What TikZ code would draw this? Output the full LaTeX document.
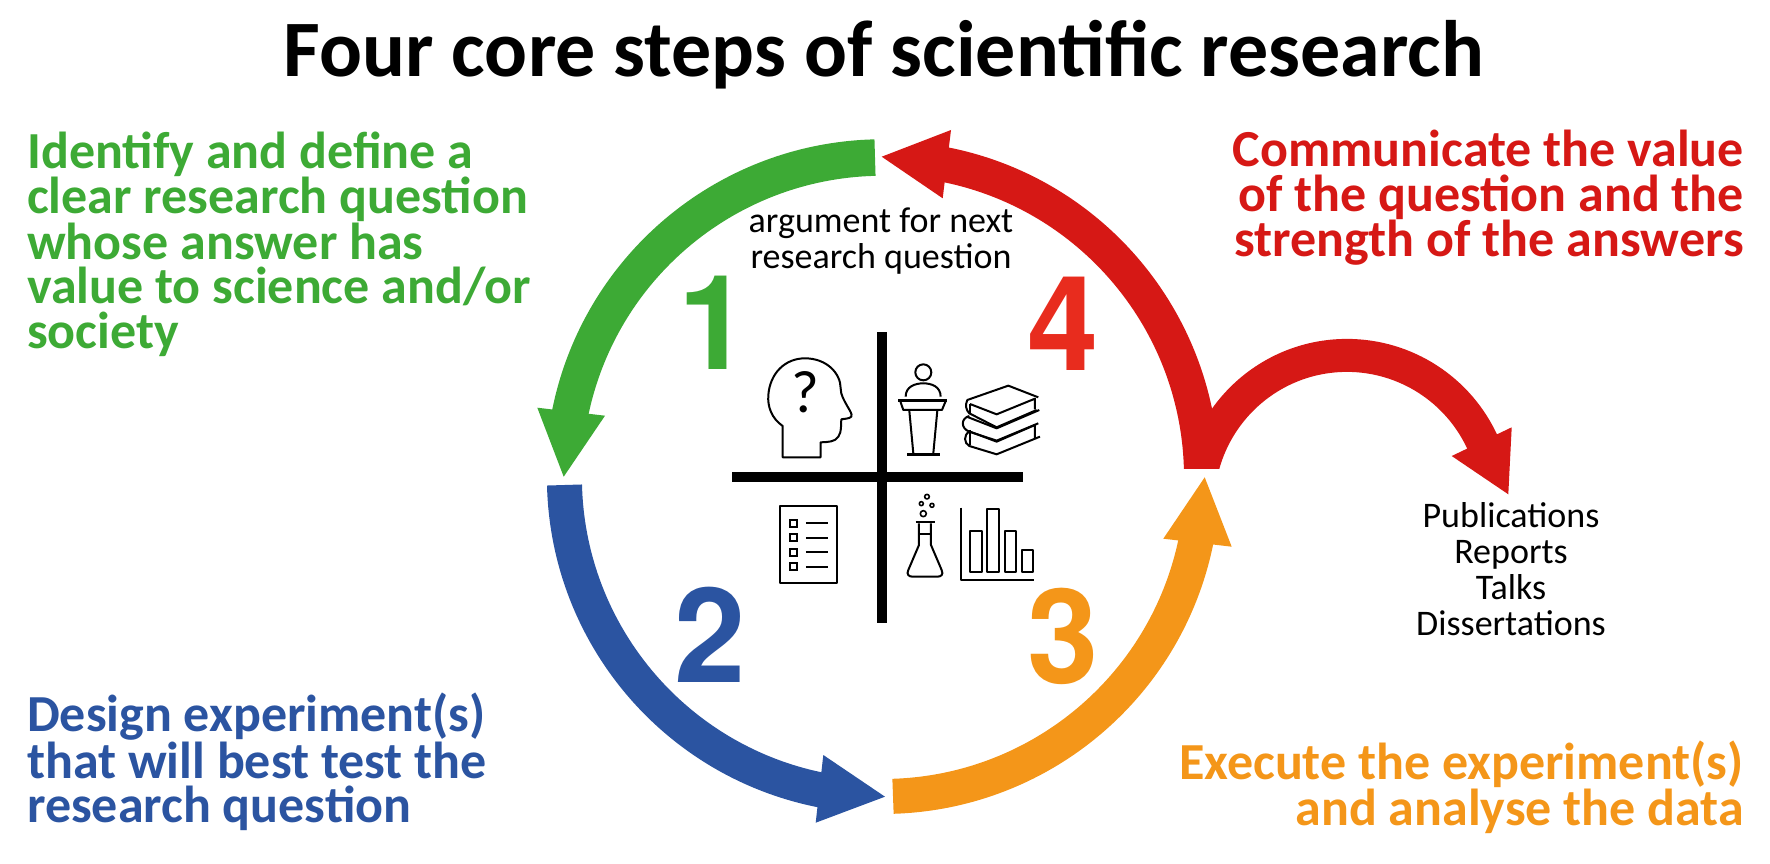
\documentclass[tikz,border=0pt]{standalone}
\usepackage{fontspec}
\setmainfont{Carlito}
\newfontfamily\numfont{TeX Gyre Heros}
\definecolor{cgreen}{HTML}{3DAA35}
\definecolor{cblue}{HTML}{2B54A1}
\definecolor{corange}{HTML}{F49619}
\definecolor{cred}{HTML}{D61815}
\definecolor{cfour}{HTML}{E82C1E}
\newcommand{\dig}[1]{\scalebox{1.05}[1.08]{#1}}
\tikzset{
  band/.style={line width=35pt},
  captext/.style={inner sep=0pt,font=\bfseries\fontsize{52}{44.3}\selectfont},
  smalltext/.style={inner sep=0pt,align=center,font=\fontsize{36}{36}\selectfont},
  num/.style={inner sep=0pt,font=\numfont\bfseries\fontsize{122}{122}\selectfont},
  ico/.style={line width=2pt,draw=black,line join=round},
  thinline/.style={line width=1.6pt,draw=black,line join=round},
}
\begin{document}
\begin{tikzpicture}[x=1pt,y=-1pt]
\useasboundingbox (0,0) rectangle (1770,864);
\node[inner sep=0pt,font=\bfseries\fontsize{80}{80}\selectfont] (title) at (884,55) {Four core steps of scientific research};
% circle arrows
\coordinate (gs) at (875,157.6);
\draw[line width=36.5pt,cgreen] (gs) arc[start angle=-91.4,end angle=-169.5,radius=319];
\fill[cgreen] (537.3,407.7) coordinate (ga) -- (605,415.7) coordinate (gb) -- (563.7,476.7) coordinate (gt) -- cycle;
\coordinate (bs) at (564.5,485);
\draw[band,cblue] (bs) arc[start angle=178.6,end angle=100.3,radius=319];
\fill[cblue] (823.3,755) coordinate (ba) -- (815.7,822.7) coordinate (bb) -- (885,796.7) coordinate (bt) -- cycle;
\coordinate (os) at (893,796.3);
\draw[band,corange] (os) arc[start angle=88.2,end angle=10.5,radius=319.5];
\fill[corange] (1163.3,538.7) coordinate (oa) -- (1231.7,546.7) coordinate (ob) -- (1204.7,477.3) coordinate (ot) -- cycle;
\coordinate (rs) at (1201.5,477);
\coordinate (hs) at (1198,504.4);
\begin{scope}
\clip (800,100) rectangle (1600,468);
\draw[band,cred] (rs) arc[start angle=0,end angle=-79.8,radius=318.5];
\draw[line width=33pt,cred] (hs) arc[start angle=180,end angle=336,radius=149];
\end{scope}
\fill[cred] (951,130) coordinate (ra) -- (942.7,198.3) coordinate (rb) -- (881.7,156.7) coordinate (rt) -- cycle;
\fill[cred] (1511.7,427.3) coordinate (ha) -- (1451.7,456) coordinate (hb) -- (1508.3,494.3) coordinate (ht) -- cycle;
% numbers
\node[num,cgreen] (n1) at (714.5,323) {\dig{1}};
\node[num,cblue] (n2) at (710.5,635) {\dig{2}};
\node[num,corange] (n3) at (1063,636) {\dig{3}};
\node[num,cfour] (n4) at (1063,324) {\dig{4}};
% cross
\fill[black] (876.7,331.7) rectangle (886.7,622.7);
\fill[black] (732.3,471.7) rectangle (1023.3,481.7);
% texts
\node[captext,cgreen,align=left,anchor=west] (tg) at (27,244) {Identify and define a\\clear research question\\whose answer has\\value to science and/or\\society};
\node[captext,cblue,align=left,anchor=west] (tb) at (27,762) {Design experiment(s)\\that will best test the\\research question};
\node[captext,cred,align=right,anchor=east] (tr) at (1744,198) {Communicate the value\\of the question and the\\strength of the answers};
\node[captext,corange,align=right,anchor=east] (to) at (1744,787) {Execute the experiment(s)\\and analyse the data};
\node[smalltext] (arg) at (881,241) {argument for next\\research question};
\node[smalltext] (pub) at (1511,569) {Publications\\Reports\\Talks\\Dissertations};
% upper icons in 3x crop coordinates
\begin{scope}[shift={(720,320)},x=0.3333pt,y=-0.3333pt]
\draw[ico] (188,412) -- (188,318) .. controls (155,295) and (142,260) .. (145,225) .. controls (150,160) and (195,115) .. (255,115) .. controls (320,115) and (362,160) .. (362,205) .. controls (362,225) and (372,240) .. (380,255) .. controls (388,270) and (398,282) .. (394,290) .. controls (388,297) and (372,296) .. (364,298) .. controls (362,315) and (366,335) .. (355,350) .. controls (345,366) and (325,366) .. (302,367) -- (302,412) -- cycle;
\node[inner sep=0pt,font=\fontsize{60}{60}\selectfont] (qm) at (255,218) {?};
\draw[ico] (610,157) circle (24);
\draw[ico] (557,230) .. controls (557,200) and (585,190) .. (610,190) .. controls (635,190) and (662,200) .. (662,230);
\draw[ico] (540,241) -- (678,241) -- (666,270) -- (550,270) -- cycle;
\draw[line width=2.6pt] (535,241) -- (682,241);
\draw[ico] (568,272) -- (580,400);
\draw[ico] (652,272) -- (640,400);
\draw[line width=2.6pt] (562,403) -- (660,403);
% books
\draw[ico] (955,232) -- (865,197) -- (742,240) .. controls (735,255) and (738,270) .. (748,280) -- (830,322) -- (950,270);
\draw[ico] (750,252) -- (830,283) -- (945,236) -- (945,268);
\draw[ico] (750,252) -- (750,280);
\draw[ico] (748,288) .. controls (722,295) and (722,325) .. (748,335) -- (830,362) -- (955,310);
\draw[ico] (740,290) -- (830,325) -- (958,270);
\draw[ico] (748,335) .. controls (730,345) and (732,370) .. (748,378) -- (830,403) -- (960,350);
\draw[ico] (750,330) -- (750,375);
\draw[ico] (750,335) -- (830,365) -- (945,315) -- (945,355);
\end{scope}
% lower icons in 3x crop coordinates
\begin{scope}[shift={(720,480)},x=0.3333pt,y=-0.3333pt]
\draw[ico] (180,79) rectangle (351,310);
\foreach \yy in {130,173,217,260}{
  \draw[line width=2.2pt] (210,\yy-10) rectangle (231,\yy+10);
  \draw[line width=1.7pt] (258,\yy) -- (324,\yy);
}
\draw[thinline] (621,50) circle (7);
\draw[thinline] (604,71) circle (6);
\draw[thinline] (636,76) circle (6);
\draw[thinline] (610,101) circle (9);
\draw[ico] (587,126) -- (645,126);
\draw[ico] (597,130) -- (597,195) -- (565,270) .. controls (558,285) and (568,290) .. (578,290) -- (652,290) .. controls (662,290) and (672,285) .. (665,270) -- (633,195) -- (633,130);
\draw[thinline] (597,162) -- (633,162);
\draw[ico] (724,83) -- (724,300) -- (942,300);
\draw[ico] (751,153) rectangle (785,275);
\draw[ico] (802,88) rectangle (836,275);
\draw[ico] (854,153) rectangle (888,275);
\draw[ico] (905,210) rectangle (940,275);
\end{scope}
\end{tikzpicture}
\end{document}
